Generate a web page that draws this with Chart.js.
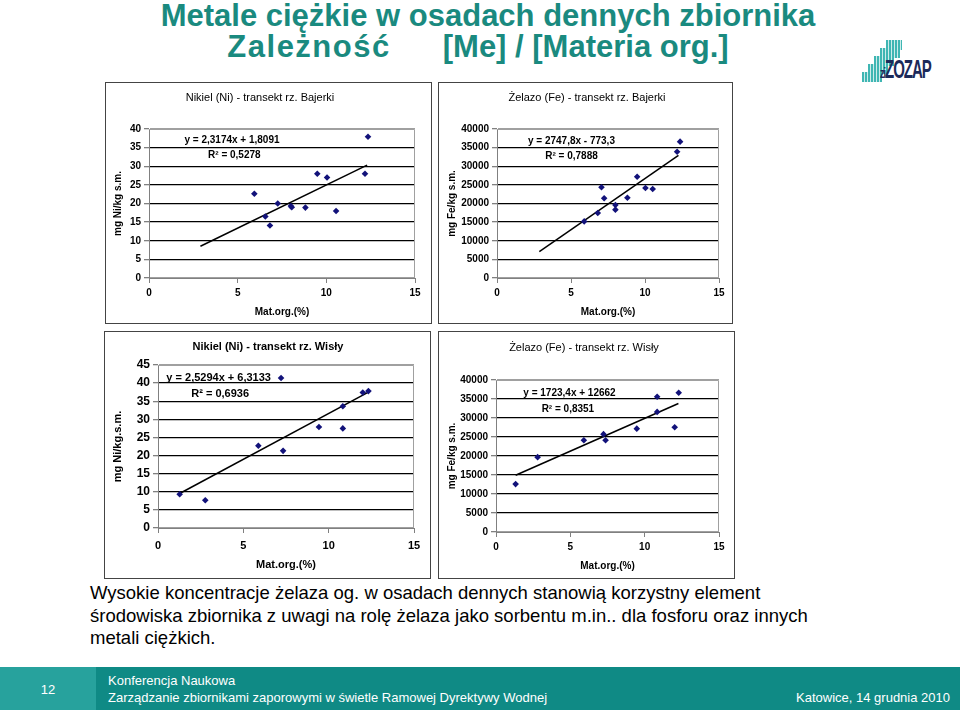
<!DOCTYPE html>
<html>
<head>
<meta charset="utf-8">
<script src="https://cdn.jsdelivr.net/npm/chart.js@4.4.0/dist/chart.umd.min.js"></script>
<style>
  body { margin: 0; width: 960px; height: 710px; position: relative; overflow: hidden; background: #fff;
         font-family: 'Liberation Sans', Arial, sans-serif; }
  .title { position: absolute; left: 0; width: 976px; text-align: center; color: #1a8a7f;
           font-size: 31px; font-weight: bold; line-height: 32px; white-space: nowrap; }
  .frame { position: absolute; border: 1px solid #444; box-sizing: border-box; }
  .ctitle { position: absolute; transform: translate(-50%, -50%); font-size: 11px; white-space: nowrap; color: #000; }
  .body-text { position: absolute; left: 90px; top: 582px; width: 870px; font-size: 18.5px; line-height: 22.5px; color: #000; white-space: nowrap; }
  .footer { position: absolute; left: 0; top: 667px; width: 960px; height: 43px; background: #0f8a85; color: #fff; font-size: 13px; }
  .footer .num { position: absolute; left: 0; top: 0; width: 96px; height: 43px; background: #27a29d; text-align: center; line-height: 46px; }
  .footer .t1 { position: absolute; left: 108px; top: 6px; }
  .footer .t2 { position: absolute; left: 108px; top: 23px; }
  .footer .t3 { position: absolute; right: 10px; top: 23px; }
  .logo { position: absolute; left: 862px; top: 40px; width: 64px; height: 44px; }
  .logo .bar { position: absolute; background: repeating-linear-gradient(90deg, #3fb6b3 0 2px, #cdeceb 2px 3px); }
  .logo .txt { position: absolute; left: 18px; top: 14px; color: #1c2a5a; font-weight: bold; white-space: nowrap;
               transform: scaleY(1.7); transform-origin: left top; letter-spacing: -1px; }
</style>
</head>
<body>

<div class="title" style="top:0px">Metale ciężkie w osadach dennych zbiornika</div>
<div class="title" style="top:31px; width:956px"><span style="letter-spacing:1.5px">Zależność</span><span style="margin-left:52px">[Me] / [Materia org.]</span></div>

<div class="logo">
  <div class="bar" style="left:0;top:32px;width:20px;height:10px"></div>
  <div class="bar" style="left:6px;top:24px;width:20px;height:10px"></div>
  <div class="bar" style="left:12px;top:16px;width:20px;height:10px"></div>
  <div class="bar" style="left:18px;top:8px;width:20px;height:10px"></div>
  <div class="bar" style="left:24px;top:0;width:16px;height:10px"></div>
  <div class="txt"><span style="font-size:9px">zi</span><span style="font-size:15px">ZOZAP</span></div>
</div>

<div class="frame" style="left:105px;top:82px;width:327px;height:242px"><canvas id="c1"></canvas></div>
<div class="frame" style="left:438px;top:82px;width:295px;height:242px"><canvas id="c2"></canvas></div>
<div class="frame" style="left:104px;top:331px;width:327px;height:248px"><canvas id="c3"></canvas></div>
<div class="frame" style="left:438px;top:331px;width:297px;height:248px"><canvas id="c4"></canvas></div>

<div class="ctitle" style="left:260px;top:97px">Nikiel (Ni) - transekt rz. Bajerki</div>
<div class="ctitle" style="left:587px;top:97px">Żelazo (Fe) - transekt rz. Bajerki</div>
<div class="ctitle" style="left:268px;top:346px;font-weight:bold">Nikiel (Ni) - transekt rz. Wisły</div>
<div class="ctitle" style="left:584px;top:347px">Żelazo (Fe)  - transekt rz. Wisły</div>

<div class="body-text">Wysokie koncentracje żelaza og. w osadach dennych stanowią korzystny element<br>środowiska zbiornika z uwagi na rolę żelaza jako sorbentu m.in.. dla fosforu oraz innych<br>metali ciężkich.</div>

<div class="footer">
  <div class="num">12</div>
  <div class="t1">Konferencja Naukowa</div>
  <div class="t2">Zarządzanie zbiornikami zaporowymi w świetle Ramowej Dyrektywy Wodnej</div>
  <div class="t3">Katowice, 14 grudnia 2010</div>
</div>

<script>
// Nikiel - Bajerki
const niBajX = [5.94, 6.82, 6.56, 7.26, 8.0, 8.05, 8.82, 9.49, 10.04, 10.55, 12.18, 12.35];
const niBajY = [22.6, 14.1, 16.5, 20.0, 19.3, 19.0, 18.9, 28.0, 27.0, 18.0, 28.0, 37.9];
// Zelazo - Bajerki
const feBajX = [5.89, 6.81, 7.06, 7.24, 8.0, 8.0, 8.81, 9.47, 10.03, 10.52, 12.17, 12.37];
const feBajY = [15200, 17450, 24350, 21400, 19600, 18350, 21550, 27200, 24150, 23900, 33900, 36600];
// Nikiel - Wisla
const niWisX = [1.27, 2.77, 5.88, 7.21, 7.33, 9.43, 10.83, 10.83, 12.0, 12.33];
const niWisY = [9.3, 7.65, 22.7, 41.4, 21.3, 27.9, 33.6, 27.5, 37.4, 37.8];
// Zelazo - Wisla
const feWisX = [1.32, 2.80, 5.91, 7.23, 7.37, 9.47, 10.84, 10.84, 12.02, 12.29];
const feWisY = [12600, 19700, 24150, 25750, 24150, 27200, 35600, 31600, 27550, 36650];

// trend lines (Excel linear): slope, intercept, x range
const trendSlope = [2.3174, 2747.8, 2.5294, 1723.4];
const trendIntercept = [1.8091, -773.3, 6.3133, 12662];
const trendFrom = [2.9, 2.86, 1.27, 1.32];
const trendTo = [12.3, 12.26, 12.33, 12.27];
const eqText = ['y = 2,3174x + 1,8091', 'y = 2747,8x - 773,3', 'y = 2,5294x + 6,3133', 'y = 1723,4x + 12662'];
const r2Text = ['R² = 0,5278', 'R² = 0,7888', 'R² = 0,6936', 'R² = 0,8351'];

// y axis ticks
const yMax = [40, 40000, 45, 40000];
const yStep = [5, 5000, 5, 5000];
const yTitles = ['mg Ni/kg s.m.', 'mg Fe/kg s.m.', 'mg Ni/kg.s.m.', 'mg Fe/kg s.m.'];

Chart.defaults.font.family = "'Liberation Sans', Arial, sans-serif";
Chart.defaults.color = '#000';
Chart.defaults.animation = false;

// draws the trend equation and the gray plot border
const eqPlugin = {
  id: 'eqLabel',
  afterDatasetsDraw(chart, args, o) {
    const {ctx, chartArea: a, scales: {x, y}} = chart;
    ctx.save();
    ctx.strokeStyle = '#a0a0a0';
    ctx.lineWidth = 1;
    ctx.beginPath();
    ctx.moveTo(a.left, a.top + 0.5);
    ctx.lineTo(a.right - 0.5, a.top + 0.5);
    ctx.lineTo(a.right - 0.5, a.bottom);
    ctx.stroke();
    ctx.fillStyle = '#000';
    ctx.font = 'bold ' + o.size + 'px ' + Chart.defaults.font.family;
    ctx.textBaseline = 'middle';
    o.lines.forEach(l => ctx.fillText(l.text, x.getPixelForValue(l.x), y.getPixelForValue(l.y)));
    ctx.restore();
  }
};

function makeChart(id, i, xs, ys, lay) {
  const pts = xs.map((v, k) => ({x: v, y: ys[k]}));
  const f = trendFrom[i], t = trendTo[i];
  const trend = [
    {x: f, y: trendSlope[i] * f + trendIntercept[i]},
    {x: t, y: trendSlope[i] * t + trendIntercept[i]}
  ];
  const fs = lay.fs;
  new Chart(document.getElementById(id), {
    type: 'scatter',
    data: {
      datasets: [
        {data: pts, pointStyle: 'rectRot', pointRadius: 3.3, backgroundColor: '#12127a', borderWidth: 0},
        {type: 'line', data: trend, borderColor: '#000', borderWidth: 1.5, pointRadius: 0, fill: false}
      ]
    },
    options: {
      responsive: true,
      maintainAspectRatio: false,
      layout: {padding: {left: 0, top: lay.top, right: lay.right, bottom: 0}},
      plugins: {
        legend: {display: false},
        tooltip: {enabled: false},
        eqLabel: {size: fs, lines: [
          {text: eqText[i], x: lay.eq[0], y: lay.eq[1]},
          {text: r2Text[i], x: lay.r2[0], y: lay.r2[1]}
        ]}
      },
      scales: {
        x: {
          type: 'linear', min: 0, max: 15,
          afterFit: s => { s.height = lay.xh; },
          ticks: {stepSize: 5, padding: lay.xpad, font: {size: fs, weight: 'bold'}},
          grid: {drawOnChartArea: false, tickLength: 5, tickColor: '#808080'},
          border: {color: '#808080'},
          title: {display: true, text: 'Mat.org.(%)', font: {size: fs, weight: 'bold'}, padding: {top: 0, bottom: lay.xtp}}
        },
        y: {
          min: 0, max: yMax[i],
          afterFit: s => { s.width = lay.left; },
          ticks: {stepSize: yStep[i], padding: 3, font: {size: lay.yfs || fs, weight: 'bold'}, callback: v => String(v)},
          grid: {
            color: c => (c.tick.value === 0 || c.tick.value === yMax[i]) ? '#a0a0a0' : '#000',
            lineWidth: 1.3, tickLength: 5, tickColor: '#808080'
          },
          border: {color: '#808080'},
          title: {display: true, text: yTitles[i], font: {size: fs, weight: 'bold'}, padding: {top: lay.ytp, bottom: 0}}
        }
      }
    },
    plugins: [eqPlugin]
  });
}

makeChart('c1', 0, niBajX, niBajY, {fs: 10, left: 43, top: 46, right: 16, xh: 45, xpad: 4, xtp: 5, ytp: 6,
  eq: [2.0, 36.9], r2: [3.33, 32.9]});
makeChart('c2', 1, feBajX, feBajY, {fs: 10, left: 58, top: 46, right: 13, xh: 45, xpad: 4, xtp: 5, ytp: 7,
  eq: [2.09, 36600], r2: [3.26, 32750]});
makeChart('c3', 2, niWisX, niWisY, {fs: 11, yfs: 12, left: 53, top: 33, right: 16, xh: 50, xpad: 6, xtp: 6, ytp: 6,
  eq: [0.49, 41.5], r2: [1.95, 36.9]});
makeChart('c4', 3, feWisX, feWisY, {fs: 10, left: 57, top: 48, right: 15, xh: 46, xpad: 4, xtp: 6, ytp: 7,
  eq: [1.84, 36590], r2: [3.07, 32210]});
</script>
</body>
</html>
